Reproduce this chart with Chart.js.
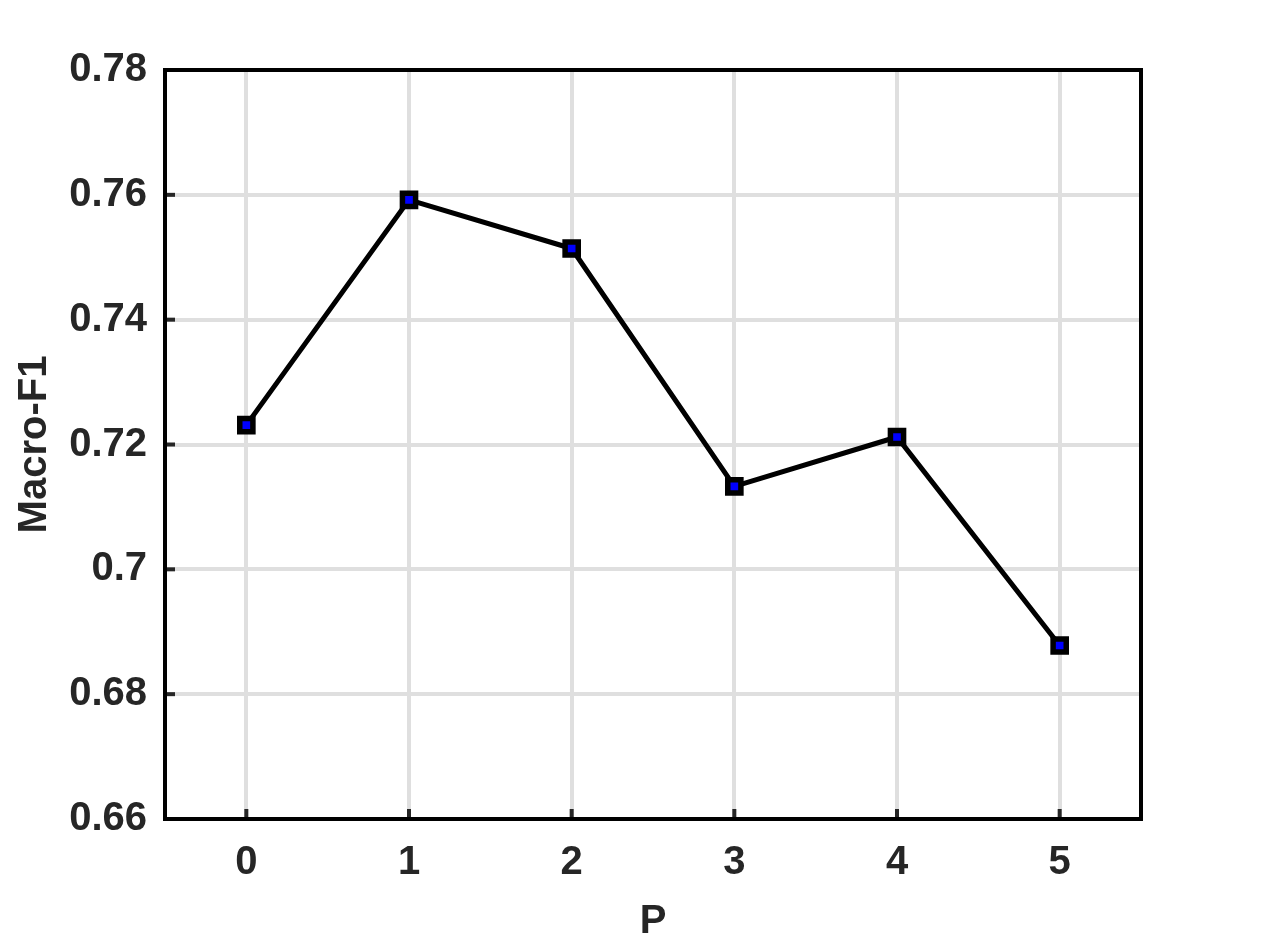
<!DOCTYPE html>
<html>
<head>
<meta charset="utf-8">
<script src="https://cdn.jsdelivr.net/npm/chart.js@4/dist/chart.umd.min.js"></script>
<style>
  html, body { margin: 0; padding: 0; background: #fff; }
  #wrap { width: 1261px; height: 950px; }
</style>
</head>
<body>
<div id="wrap"><canvas id="f1Chart" width="1261" height="950"></canvas></div>
<script>
// values
const pValues = ['0', '1', '2', '3', '4', '5'];
const macroF1 = [0.7231, 0.7592, 0.7514, 0.7133, 0.7212, 0.6878];
const yTicks = [0.66, 0.68, 0.70, 0.72, 0.74, 0.76, 0.78];

const textColor = '#262626';
const gridColor = 'rgb(223,223,223)';

// matlab style box + inward ticks on left/bottom
const boxPlugin = {
    id: 'boxPlugin',
    afterDatasetsDraw(chart) {
        const ctx = chart.ctx;
        const a = chart.chartArea;
        const xs = chart.scales.x;
        const ys = chart.scales.y;
        ctx.save();
        ctx.strokeStyle = textColor;
        ctx.lineWidth = 4;
        ys.ticks.forEach((t, i) => {
            const py = ys.getPixelForTick(i);
            ctx.beginPath();
            ctx.moveTo(a.left, py);
            ctx.lineTo(a.left + 10, py);
            ctx.stroke();
        });
        xs.ticks.forEach((t, i) => {
            const px = xs.getPixelForTick(i);
            ctx.beginPath();
            ctx.moveTo(px, a.bottom);
            ctx.lineTo(px, a.bottom - 10);
            ctx.stroke();
        });
        ctx.strokeStyle = '#000';
        ctx.lineWidth = 4;
        ctx.strokeRect(a.left, a.top, a.right - a.left, a.bottom - a.top);
        ctx.restore();
    }
};

new Chart(document.getElementById('f1Chart'), {
    type: 'line',
    data: {
        labels: pValues,
        datasets: [{
            label: 'Macro-F1',
            data: macroF1,
            borderColor: '#000',
            borderWidth: 5,
            pointStyle: 'rect',
            pointRadius: 9.3,
            pointBorderWidth: 5.5,
            pointBorderColor: '#000',
            pointBackgroundColor: '#0000ff',
            tension: 0
        }]
    },
    options: {
        responsive: false,
        animation: false,
        layout: { padding: { left: 0, right: 120, top: 70, bottom: 0 } },
        plugins: {
            legend: { display: false },
            tooltip: { enabled: false }
        },
        scales: {
            x: {
                offset: true,
                grid: { color: gridColor, lineWidth: 4, drawTicks: false, offset: false },
                border: { display: false },
                ticks: {
                    color: textColor,
                    padding: 20,
                    font: { family: 'Liberation Sans, Arial, sans-serif', size: 40, weight: 'bold' }
                },
                title: {
                    display: true,
                    text: 'P',
                    color: textColor,
                    padding: { top: 0, bottom: 4 },
                    font: { family: 'Liberation Sans, Arial, sans-serif', size: 40, weight: 'bold' }
                },
                afterFit(scale) { scale.height = 131; }
            },
            y: {
                min: 0.66,
                max: 0.78,
                afterBuildTicks(scale) { scale.ticks = yTicks.map(v => ({ value: v })); },
                grid: { color: gridColor, lineWidth: 4, drawTicks: false },
                border: { display: false },
                ticks: {
                    color: textColor,
                    padding: 18,
                    font: { family: 'Liberation Sans, Arial, sans-serif', size: 40, weight: 'bold' },
                    callback: v => String(Math.round(v * 100) / 100)
                },
                title: {
                    display: true,
                    text: 'Macro-F1',
                    color: textColor,
                    padding: { top: 11, bottom: 0 },
                    font: { family: 'Liberation Sans, Arial, sans-serif', size: 40, weight: 'bold' }
                },
                afterFit(scale) { scale.width = 165; }
            }
        }
    },
    plugins: [boxPlugin]
});
</script>
</body>
</html>
